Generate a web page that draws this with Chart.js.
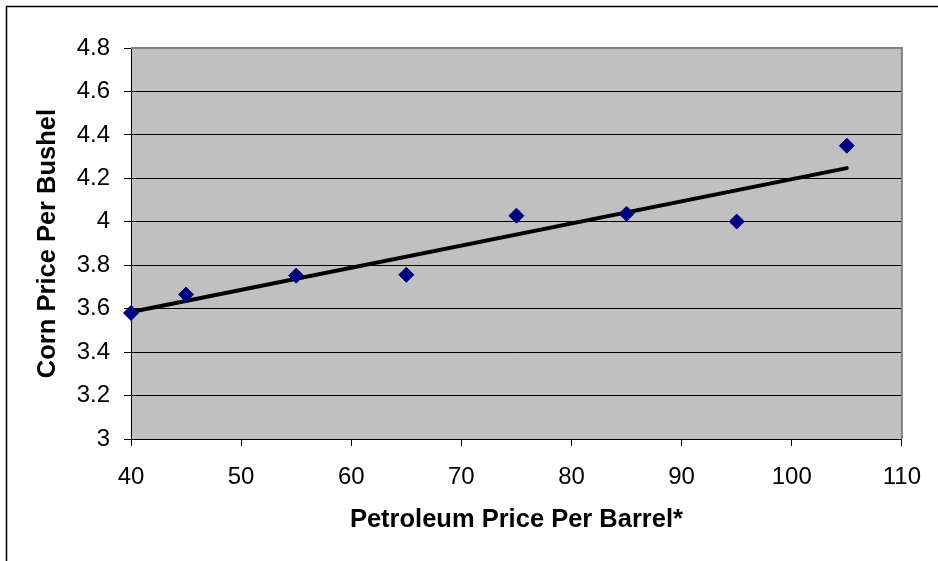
<!DOCTYPE html>
<html>
<head>
<meta charset="utf-8">
<script src="https://cdn.jsdelivr.net/npm/chart.js@4/dist/chart.umd.min.js"></script>
<style>
  html, body { margin: 0; padding: 0; background: #fff; }
  canvas { display: block; }
</style>
</head>
<body>
<canvas id="c" width="938" height="561"></canvas>
<script>
// Corn price vs. petroleum price, with a linear trend line
const petroleumPrice = [40, 45, 55, 65, 75, 85, 95, 105];
const cornPrice = [3.58, 3.665, 3.752, 3.756, 4.028, 4.037, 4.001, 4.35];
const trendX = [40, 105];
const trendY = [3.585, 4.247];
const xTicks = [40, 50, 60, 70, 80, 90, 100, 110];
const yTicks = [3, 3.2, 3.4, 3.6, 3.8, 4, 4.2, 4.4, 4.6, 4.8];

const FONT = '"Liberation Sans", Arial, sans-serif';

// Page frame, grey plot background and grey plot-area border
const framePlugin = {
  id: 'frame',
  beforeDraw(chart) {
    const { ctx, chartArea: a, width, height } = chart;
    ctx.save();
    ctx.fillStyle = '#ffffff';
    ctx.fillRect(0, 0, width, height);
    ctx.strokeStyle = '#000000';
    ctx.lineWidth = 1.5;
    ctx.beginPath();
    ctx.moveTo(6.5, height);
    ctx.lineTo(6.5, 6.5);
    ctx.lineTo(width, 6.5);
    ctx.stroke();
    ctx.fillStyle = '#c0c0c0';
    ctx.fillRect(a.left, a.top, a.right - a.left, a.bottom - a.top);
    ctx.restore();
  },
  beforeDatasetsDraw(chart) {
    const { ctx, chartArea: a } = chart;
    ctx.save();
    ctx.strokeStyle = '#808080';
    ctx.lineWidth = 2;
    ctx.beginPath();
    ctx.moveTo(a.left, a.top);
    ctx.lineTo(a.right, a.top);
    ctx.lineTo(a.right, a.bottom);
    ctx.stroke();
    ctx.restore();
  }
};

new Chart(document.getElementById('c'), {
  type: 'scatter',
  data: {
    datasets: [
      {
        label: 'Corn Price',
        data: petroleumPrice.map((x, i) => ({ x, y: cornPrice[i] })),
        pointStyle: 'rectRot',
        pointRadius: 7.5,
        pointBackgroundColor: '#000080',
        pointBorderColor: '#000080',
        pointBorderWidth: 1,
        showLine: false,
        clip: false,
        order: 0
      },
      {
        label: 'Trend',
        type: 'line',
        data: trendX.map((x, i) => ({ x, y: trendY[i] })),
        borderColor: '#000000',
        borderWidth: 4,
        borderCapStyle: 'round',
        pointRadius: 0,
        fill: false,
        clip: false,
        order: 1
      }
    ]
  },
  options: {
    responsive: false,
    animation: false,
    events: [],
    layout: { padding: { left: 29, top: 48, right: 34, bottom: 22 } },
    plugins: {
      legend: { display: false },
      tooltip: { enabled: false }
    },
    scales: {
      x: {
        type: 'linear',
        position: 'bottom',
        min: 40,
        max: 110,
        afterBuildTicks: s => { s.ticks = xTicks.map(v => ({ value: v })); },
        afterFit: s => { s.height = 100; },
        ticks: {
          color: '#000',
          font: { family: FONT, size: 24 },
          padding: 17,
          maxRotation: 0,
          autoSkip: false,
          callback: v => String(v)
        },
        grid: { drawOnChartArea: false, tickLength: 7, color: '#000', tickColor: '#000' },
        border: { color: '#000', width: 1 },
        title: {
          display: true,
          text: 'Petroleum Price Per Barrel*',
          color: '#000',
          font: { family: FONT, size: 25.5, weight: 'bold' },
          padding: { top: 4, bottom: 4 }
        }
      },
      y: {
        type: 'linear',
        position: 'left',
        min: 3,
        max: 4.8,
        afterBuildTicks: s => { s.ticks = yTicks.map(v => ({ value: v })); },
        afterFit: s => { s.width = 102; },
        ticks: {
          color: '#000',
          font: { family: FONT, size: 24 },
          padding: 14,
          autoSkip: false,
          callback: v => String(v)
        },
        grid: { color: '#000', lineWidth: 1, tickLength: 7, tickColor: '#000' },
        border: { color: '#000', width: 1 },
        title: {
          display: true,
          text: 'Corn Price Per Bushel',
          color: '#000',
          font: { family: FONT, size: 25.5, weight: 'bold' },
          padding: { top: 4, bottom: 4 }
        }
      }
    }
  },
  plugins: [framePlugin]
});
</script>
</body>
</html>
